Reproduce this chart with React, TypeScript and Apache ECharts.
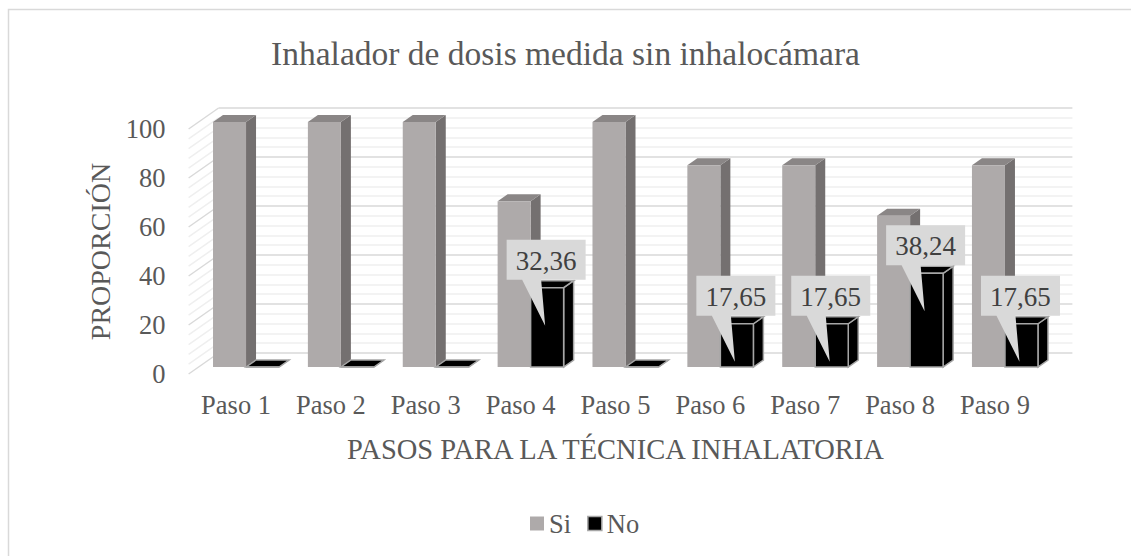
import React, { useEffect, useRef } from "react";
import * as echarts from "echarts";

const title = "Inhalador de dosis medida sin inhalocámara";
const categories = ["Paso 1", "Paso 2", "Paso 3", "Paso 4", "Paso 5", "Paso 6", "Paso 7", "Paso 8", "Paso 9"];
const siValues = [100, 100, 100, 67.64, 100, 82.35, 82.35, 61.76, 82.35];
const noValues = [0, 0, 0, 32.36, 0, 17.65, 17.65, 38.24, 17.65];
const yMin = 0;
const yMax = 100;
const yInterval = 20;
const xName = "PASOS PARA LA TÉCNICA INHALATORIA";
const yName = "PROPORCIÓN";

const FONT = "Liberation Serif";
const TXT = "#595959";
const DX = 10;
const DY = -7;

const wallTicks: number[] = [];
for (let v = yMin; v <= yMax; v += 4) wallTicks.push(v);

function fmt(v: number) {
  return v.toFixed(2).replace(".", ",");
}

function makeBarRender(kind: "si" | "no") {
  return (params: any, api: any) => {
    const idx = api.value(0);
    const val = api.value(1);
    const base = api.coord([idx, 0]);
    const top = api.coord([idx, val]);
    const band = api.size([1, 0])[0];
    const w = band * 0.348;
    const cx = base[0];
    const x0 = kind === "si" ? cx - w : cx;
    const x1 = kind === "si" ? cx : cx + w;
    const y0 = base[1];
    const yt = top[1];
    const fx0 = x0 + DX, fx1 = x1 + DX;
    const fy0 = y0 + DY, fyt = yt + DY;
    const bx1 = x1 + 2 * DX;
    const byt = yt + 2 * DY, by0 = y0 + 2 * DY;
    const isNo = kind === "no";
    const stroke = isNo ? "#a6a6a6" : null;
    const lw = isNo ? 1.5 : 0;
    const children: any[] = [
      {
        type: "polygon",
        shape: { points: [[fx1, fyt], [bx1, byt], [bx1, by0], [fx1, fy0]] },
        style: { fill: isNo ? "#000" : "#747070", stroke, lineWidth: lw },
      },
      {
        type: "polygon",
        shape: { points: [[fx0, fyt], [x0 + 2 * DX, byt], [bx1, byt], [fx1, fyt]] },
        style: { fill: isNo ? "#000" : "#8a8686", stroke, lineWidth: lw },
      },
      {
        type: "rect",
        shape: { x: fx0, y: fyt, width: fx1 - fx0, height: fy0 - fyt },
        style: { fill: isNo ? "#000" : "#aeaaaa", stroke, lineWidth: lw },
      },
    ];
    if (isNo && val > 0) {
      const fc = (fx0 + fx1) / 2;
      const bw = 79, bh = 40;
      const B = fyt - 8;
      const T = B - bh;
      const L = fc - 1 - bw / 2;
      const R = L + bw;
      children.push({
        type: "polygon",
        shape: {
          points: [[L, T], [R, T], [R, B], [fc - 6, B], [fc - 2, B + 46], [fc - 25, B], [L, B]],
        },
        style: { fill: "#d9d9d9" },
      });
      children.push({
        type: "text",
        x: (L + R) / 2,
        y: (T + B) / 2 + 1,
        style: {
          text: fmt(val),
          fill: "#404040",
          font: "27px Liberation Serif",
          align: "center",
          verticalAlign: "middle",
        },
      });
    }
    return { type: "group", children };
  };
}

export default function App() {
  const ref = useRef<HTMLDivElement>(null);
  useEffect(() => {
    if (!ref.current) return;
    const chart = echarts.init(ref.current, null, { renderer: "svg" });
    const option: any = {
      animation: false,
      backgroundColor: "#ffffff",
      textStyle: { fontFamily: FONT },
      title: {
        text: title,
        left: "center",
        top: 31,
        textStyle: { fontFamily: FONT, fontSize: 33.5, fontWeight: "normal", color: TXT },
      },
      legend: {
        left: 525,
        top: 505,
        icon: "rect",
        itemWidth: 14,
        itemHeight: 14,
        itemGap: 16,
        textStyle: { fontFamily: FONT, fontSize: 26.5, color: TXT },
        data: [
          { name: "Si", itemStyle: { color: "#aeaaaa" } },
          { name: "No", itemStyle: { color: "#000", borderColor: "#a6a6a6", borderWidth: 1.5 } },
        ],
      },
      graphic: [
        {
          type: "rect",
          shape: { x: 8.5, y: 9.5, width: 1140, height: 600 },
          style: { fill: "none", stroke: "#d9d9d9", lineWidth: 1.5 },
          silent: true,
          z: -10,
        },
      ],
      grid: [
        { left: 188.6, right: 88.6, top: 129, bottom: 182 },
        { left: 218.6, right: 58.6, top: 108, bottom: 203 },
      ],
      xAxis: [
        {
          type: "category",
          gridIndex: 0,
          data: categories,
          axisLine: { show: false },
          axisTick: { show: false },
          axisLabel: { fontFamily: FONT, fontSize: 26.5, color: TXT, margin: 17 },
          name: xName,
          nameLocation: "middle",
          nameGap: 61,
          nameTextStyle: { fontFamily: FONT, fontSize: 28.5, color: TXT },
        },
        { type: "value", gridIndex: 1, min: 0, max: 1, show: false },
      ],
      yAxis: [
        {
          type: "value",
          gridIndex: 0,
          min: yMin,
          max: yMax,
          interval: yInterval,
          splitLine: { show: false },
          axisLine: { show: false },
          axisTick: { show: false },
          axisLabel: { fontFamily: FONT, fontSize: 26.5, color: TXT, margin: 23 },
          name: yName,
          nameLocation: "middle",
          nameGap: 74,
          nameRotate: 90,
          nameTextStyle: { fontFamily: FONT, fontSize: 28, color: TXT },
        },
        {
          type: "value",
          gridIndex: 1,
          min: yMin,
          max: yMax,
          interval: yInterval,
          axisLabel: { show: false },
          axisLine: { show: false },
          axisTick: { show: false },
          minorTick: { show: false, splitNumber: 5 },
          splitLine: { show: true, lineStyle: { color: "#d9d9d9", width: 1.5 } },
          minorSplitLine: { show: true, lineStyle: { color: "#efefef", width: 1.5 } },
        },
      ],
      series: [
        {
          type: "custom",
          name: "wall",
          xAxisIndex: 0,
          yAxisIndex: 0,
          silent: true,
          z: 1,
          data: wallTicks.map((v) => [0, v]),
          renderItem: (params: any, api: any) => {
            const v = api.value(1);
            const p = api.coord([0, v]);
            const band = api.size([1, 0])[0];
            const left = p[0] - band / 2;
            return {
              type: "line",
              shape: { x1: left, y1: p[1], x2: left + 3 * DX, y2: p[1] + 3 * DY },
              style: { stroke: v % yInterval === 0 ? "#d9d9d9" : "#efefef", lineWidth: 1.5 },
            };
          },
        },
        {
          type: "custom",
          name: "Si",
          xAxisIndex: 0,
          yAxisIndex: 0,
          z: 2,
          itemStyle: { color: "#aeaaaa" },
          data: siValues.map((v, i) => [i, v]),
          renderItem: makeBarRender("si"),
        },
        {
          type: "custom",
          name: "No",
          xAxisIndex: 0,
          yAxisIndex: 0,
          z: 3,
          itemStyle: { color: "#000" },
          data: noValues.map((v, i) => [i, v]),
          renderItem: makeBarRender("no"),
        },
      ],
    };
    chart.setOption(option);
    return () => chart.dispose();
  }, []);
  return (
    <div
      ref={ref}
      style={{ position: "fixed", left: 0, top: 0, width: 1131, height: 556, background: "#fff" }}
    />
  );
}
